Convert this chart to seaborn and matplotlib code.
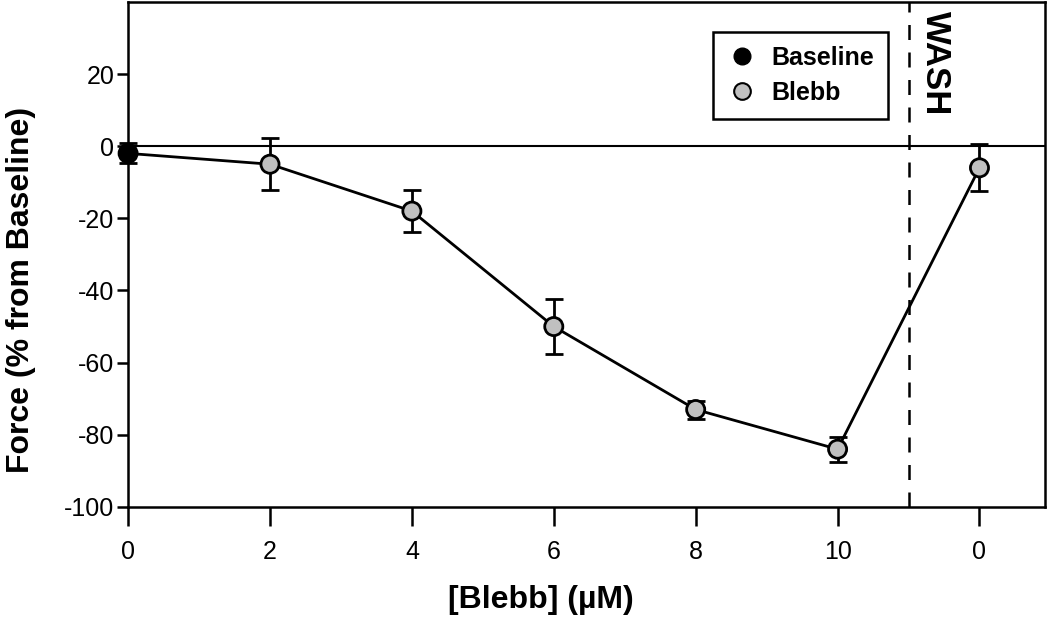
import pandas as pd
import matplotlib
matplotlib.use('Agg')
import matplotlib.pyplot as plt
import seaborn as sns
from matplotlib.lines import Line2D

# data
x_pos = [0, 2, 4, 6, 8, 10, 12]
tick_labels = ['0', '2', '4', '6', '8', '10', '0']
force_mean = [-2, -5, -18, -50, -73, -84, -6]
force_err = [2.8, 7.2, 5.8, 7.5, 2.5, 3.5, 6.5]
condition = ['Baseline', 'Blebb', 'Blebb', 'Blebb', 'Blebb', 'Blebb', 'Blebb']
wash_x = 11

df = pd.DataFrame({'x': x_pos, 'force': force_mean, 'err': force_err, 'condition': condition})

sns.set_style('ticks')
plt.rcParams['font.family'] = ['Liberation Sans', 'DejaVu Sans']
plt.rcParams['axes.unicode_minus'] = False
plt.rcParams['text.color'] = 'black'
plt.rcParams['axes.labelcolor'] = 'black'
plt.rcParams['xtick.color'] = 'black'
plt.rcParams['ytick.color'] = 'black'

fig, ax = plt.subplots(figsize=(10.5, 6.22), dpi=100)
fig.subplots_adjust(left=0.122, right=0.995, top=0.997, bottom=0.185)

ax.axhline(0, color='black', lw=1.5, zorder=1)
ax.axvline(wash_x, color='black', lw=1.8, ls=(0, (6, 5)), zorder=1)

sns.lineplot(data=df, x='x', y='force', color='black', lw=2, ax=ax, zorder=2, estimator=None)
ax.errorbar(df['x'], df['force'], yerr=df['err'], fmt='none', ecolor='black',
            elinewidth=2, capsize=6.5, capthick=2, zorder=3, clip_on=False)
sns.scatterplot(data=df, x='x', y='force', hue='condition',
                palette={'Baseline': 'black', 'Blebb': '#c0c0c0'},
                edgecolor='black', linewidth=2, s=170, ax=ax, zorder=4, legend=False,
                clip_on=False)

ax.set_xlim(0, 12.92)
ax.set_ylim(-100, 40)
ax.set_xticks(x_pos)
ax.set_xticklabels(tick_labels)
ax.set_yticks([-100, -80, -60, -40, -20, 0, 20])
ax.tick_params(axis='both', labelsize=18, width=1.8, length=8, direction='out')
ax.tick_params(axis='x', length=14, pad=10)
ax.tick_params(axis='y', pad=2)
for sp in ax.spines.values():
    sp.set_linewidth(1.8)
    sp.set_color('black')

ax.set_xlabel('[Blebb] (µM)', fontsize=23, fontweight='bold')
ax.set_ylabel('Force (% from Baseline)', fontsize=23, fontweight='bold')
ax.xaxis.set_label_coords(0.45, -0.155)
ax.yaxis.set_label_coords(-0.1, 0.43)

ax.text(11.38, 37.5, 'WASH', rotation=-90, fontsize=25, fontweight='bold',
        ha='center', va='top')

handles = [
    Line2D([], [], marker='o', ls='', markerfacecolor='black', markeredgecolor='black', markersize=12),
    Line2D([], [], marker='o', ls='', markerfacecolor='#c0c0c0', markeredgecolor='black',
           markeredgewidth=1.5, markersize=12),
]
leg = ax.legend(handles, ['Baseline', 'Blebb'], loc='upper right', bbox_to_anchor=(0.829, 0.94),
                frameon=True, fancybox=False, edgecolor='black', framealpha=1,
                prop={'weight': 'bold', 'size': 18}, handletextpad=0.6, borderpad=0.55,
                labelspacing=0.45, handlelength=1.2, borderaxespad=0)
leg.get_frame().set_linewidth(1.8)

fig.savefig('out.png', dpi=100)
